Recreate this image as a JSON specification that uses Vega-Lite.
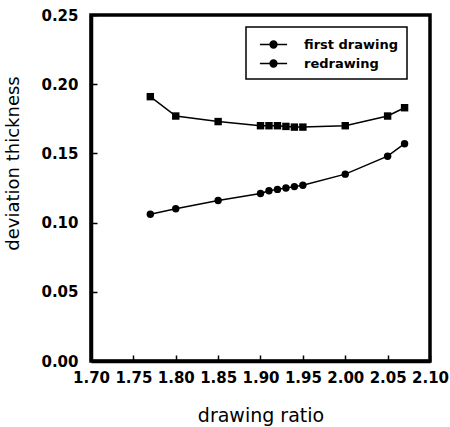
{
  "$schema": "https://vega.github.io/schema/vega-lite/v6.json",
  "width": 339,
  "height": 346,
  "autosize": {"type": "none"},
  "padding": {"left": 91, "top": 15, "right": 20, "bottom": 66},
  "background": "white",
  "config": {
    "font": "DejaVu Sans",
    "view": {"stroke": "black", "strokeWidth": 3.5},
    "axis": {
      "grid": false,
      "domainColor": "black",
      "domainWidth": 3.5,
      "tickColor": "black",
      "tickWidth": 1.5,
      "tickSize": -6,
      "labelColor": "black",
      "labelFontSize": 15,
      "labelFontWeight": "bold",
      "titleColor": "black",
      "titleFontSize": 19,
      "titleFontWeight": "normal"
    },
    "legend": {
      "strokeColor": "black",
      "strokeWidth": 1.5,
      "padding": 8,
      "labelFontSize": 13,
      "labelFontWeight": "bold",
      "labelColor": "black",
      "labelOffset": 21
    }
  },
  "data": {
    "values": [
      {"ratio": 1.77, "dev": 0.106, "series": "first drawing"},
      {"ratio": 1.80, "dev": 0.110, "series": "first drawing"},
      {"ratio": 1.85, "dev": 0.116, "series": "first drawing"},
      {"ratio": 1.90, "dev": 0.121, "series": "first drawing"},
      {"ratio": 1.91, "dev": 0.123, "series": "first drawing"},
      {"ratio": 1.92, "dev": 0.124, "series": "first drawing"},
      {"ratio": 1.93, "dev": 0.125, "series": "first drawing"},
      {"ratio": 1.94, "dev": 0.126, "series": "first drawing"},
      {"ratio": 1.95, "dev": 0.127, "series": "first drawing"},
      {"ratio": 2.00, "dev": 0.135, "series": "first drawing"},
      {"ratio": 2.05, "dev": 0.148, "series": "first drawing"},
      {"ratio": 2.07, "dev": 0.157, "series": "first drawing"},
      {"ratio": 1.77, "dev": 0.191, "series": "redrawing"},
      {"ratio": 1.80, "dev": 0.177, "series": "redrawing"},
      {"ratio": 1.85, "dev": 0.173, "series": "redrawing"},
      {"ratio": 1.90, "dev": 0.170, "series": "redrawing"},
      {"ratio": 1.91, "dev": 0.170, "series": "redrawing"},
      {"ratio": 1.92, "dev": 0.170, "series": "redrawing"},
      {"ratio": 1.93, "dev": 0.1695, "series": "redrawing"},
      {"ratio": 1.94, "dev": 0.169, "series": "redrawing"},
      {"ratio": 1.95, "dev": 0.169, "series": "redrawing"},
      {"ratio": 2.00, "dev": 0.170, "series": "redrawing"},
      {"ratio": 2.05, "dev": 0.177, "series": "redrawing"},
      {"ratio": 2.07, "dev": 0.183, "series": "redrawing"}
    ]
  },
  "encoding": {
    "x": {
      "field": "ratio",
      "type": "quantitative",
      "scale": {"domain": [1.7, 2.1], "nice": false, "zero": false},
      "axis": {
        "title": "drawing ratio",
        "values": [1.7, 1.75, 1.8, 1.85, 1.9, 1.95, 2.0, 2.05, 2.1],
        "format": ".2f",
        "labelPadding": 15,
        "labelFlush": false,
        "labelOverlap": false,
        "titleY": 60,
        "titleBaseline": "alphabetic"
      }
    },
    "y": {
      "field": "dev",
      "type": "quantitative",
      "scale": {"domain": [0, 0.25], "nice": false},
      "axis": {
        "title": "deviation thickness",
        "values": [0, 0.05, 0.1, 0.15, 0.2, 0.25],
        "format": ".2f",
        "labelPadding": 19,
        "labelFlush": false,
        "labelOverlap": false,
        "titleFontSize": 18,
        "titleX": -78,
        "titleY": 148,
        "titleAlign": "center",
        "titleBaseline": "middle",
        "titleAngle": -90
      }
    }
  },
  "layer": [
    {
      "mark": {"type": "line", "strokeWidth": 1.5},
      "encoding": {
        "color": {
          "field": "series",
          "type": "nominal",
          "scale": {"domain": ["first drawing", "redrawing"], "range": ["black", "black"]},
          "legend": {
            "title": null,
            "orient": "none",
            "legendX": 155,
            "legendY": 12,
            "symbolType": "M-1.6,0H1.6M0.4,0A0.4,0.4,0,1,1,-0.4,0A0.4,0.4,0,1,1,0.4,0",
            "symbolSize": 289,
            "symbolOffset": 10,
            "symbolStrokeWidth": 1.5,
            "symbolFillColor": "black",
            "symbolStrokeColor": "black",
            "rowPadding": 2
          }
        }
      }
    },
    {
      "transform": [{"filter": "datum.series === 'first drawing'"}],
      "mark": {"type": "point", "shape": "circle", "filled": true, "opacity": 1, "color": "black", "size": 55}
    },
    {
      "transform": [{"filter": "datum.series === 'redrawing'"}],
      "mark": {"type": "point", "shape": "square", "filled": true, "opacity": 1, "color": "black", "size": 55}
    }
  ]
}
